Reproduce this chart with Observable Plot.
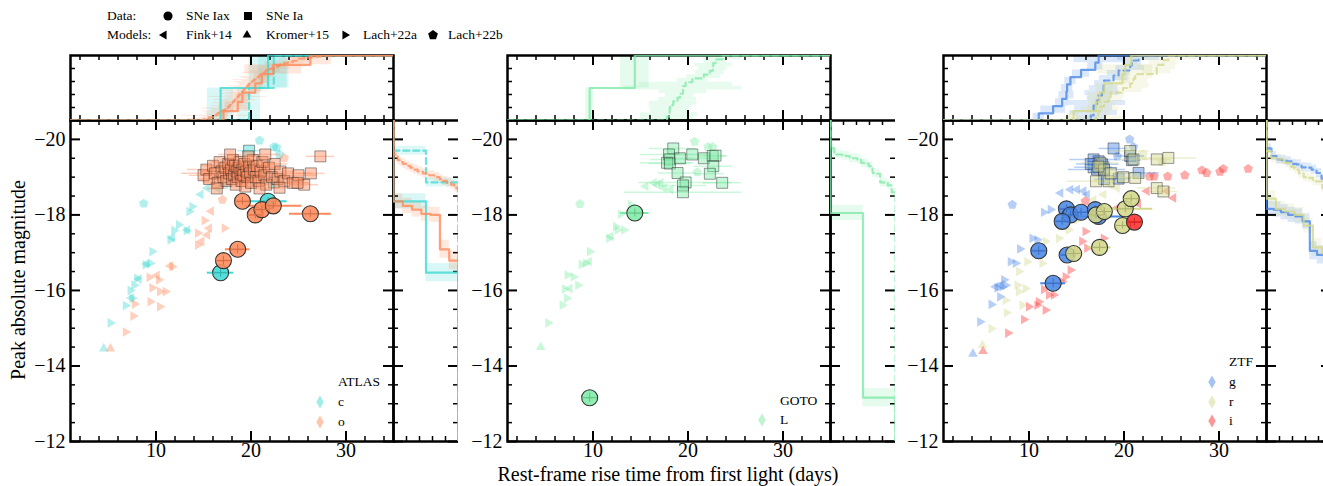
<!DOCTYPE html>
<html><head><meta charset="utf-8">
<script src="https://cdn.jsdelivr.net/npm/d3@7"></script>
<script src="https://cdn.jsdelivr.net/npm/@observablehq/plot@0.6"></script>
<style>
body{margin:0;background:#fff;}
#fig{position:relative;width:1323px;height:486px;overflow:hidden;background:#fff;font-family:"Liberation Serif","Times New Roman",Times,serif;color:#000;}
.abs{position:absolute;}
.txt{position:absolute;white-space:nowrap;line-height:1;transform:translateY(-50%);}
</style></head><body><div id="fig"></div>
<script>
// ---------------- axes / ticks ----------------
const xDomain = [1, 35];
const yDomain = [-12, -20.5];
const xMajor = [10, 20, 30];
const xMinor = [2, 4, 6, 8, 12, 14, 16, 18, 22, 24, 26, 28, 32, 34];
const yMajor = [-20, -18, -16, -14, -12];
const yMinor = [-19.5, -19, -18.5, -17.5, -17, -16.5, -15.5, -15, -14.5, -13.5, -13, -12.5];
const cdfTicks = [0.2, 0.4, 0.6, 0.8];
const xLabel = "Rest-frame rise time from first light (days)";
const yLabel = "Peak absolute magnitude";

// ---------------- colours ----------------
const colC = "#40d9d3", colO = "#ff8a5a", colL = "#7eeaa6", colG = "#4a88e6", colR = "#d3d88b", colI = "#ff2e2e";

// ---------------- ATLAS c ----------------
const atlasC_iax_x = [16.8, 21.8];
const atlasC_iax_mag = [-16.47, -18.36];
const atlasC_iax_xerr = [1.4, 2.0];
const atlasC_iax_merr = [0.12, 0.1];
const atlasC_ia_x = [19.8, 22.4];
const atlasC_ia_mag = [-19.7, -18.86];
const atlasC_ia_xerr = [1.2, 1.6];
const atlasC_mod_x = [4.5, 5.2, 6.8, 7.5, 7.3, 7.7, 8.0, 8.9, 9.4, 9.6, 11.5, 11.9, 12.4, 13.2, 13.5, 13.8,
  7.4, 8.2, 9.0, 11.7, 13.3, 14.7, 15.4, 16.5, 17.3, 8.7, 20.9, 22.4, 22.7, 23.0, 21.2];
const atlasC_mod_mag = [-14.46, -15.14, -15.6, -15.79, -16.0, -16.14, -16.32, -16.68, -16.72, -17.03, -17.34, -17.59, -17.74, -17.58, -18.09, -18.22,
  -15.8, -16.3, -16.7, -17.4, -17.6, -18.54, -18.71, -18.7, -18.8, -18.3, -19.97, -19.8, -19.78, -19.6, -19.1];
const atlasC_mod_kind = ["K","A","A","A","A","A","A","A","A","A","A","A","A","A","A","A",
  "F","F","F","F","F","F","F","F","F","B","B","B","B","B","B"];

// ---------------- ATLAS o ----------------
const atlasO_iax_x = [17.1, 18.6, 19.1, 20.45, 21.15, 22.35, 26.25];
const atlasO_iax_mag = [-16.79, -17.09, -18.36, -18.0, -18.14, -18.24, -18.03];
const atlasO_iax_xerr = [0.5, 1.3, 0.8, 0.7, 0.8, 3.0, 2.2];
const atlasO_iax_merr = [0.12, 0.12, 0.1, 0.1, 0.1, 0.1, 0.1];
const atlasO_ia_x = [15.0,15.3,15.6,16.0,16.2,16.5,16.7,16.9,17.1,17.3, 17.4,17.6,17.7,17.9,18.0,18.1,18.2,18.3,18.4,18.5,
  18.6,18.7,18.8,18.9,19.0,19.1,19.2,19.3,19.4,19.5, 19.6,19.8,19.9,20.0,20.2,20.3,20.5,20.6,20.8,21.0,
  21.2,21.4,21.6,21.9,22.2,22.5,22.8,23.1,23.5,23.9, 24.4,25.0,25.6,27.3,19.7,17.8,21.5,16.4,23.0,20.9, 26.3,24.9];
const atlasO_ia_mag = [-19.05,-19.2,-18.95,-19.3,-19.1,-18.85,-19.4,-19.15,-19.0,-19.25, -18.9,-19.35,-19.1,-19.2,-18.95,-19.45,-19.05,-19.3,-18.8,-19.15,
  -19.0,-19.25,-19.4,-19.1,-18.9,-19.2,-19.05,-19.35,-18.75,-19.15, -19.0,-19.3,-19.1,-18.85,-19.45,-19.2,-19.0,-19.3,-18.9,-19.15,
  -19.4,-19.05,-18.8,-19.25,-19.0,-19.35,-18.95,-19.15,-18.9,-19.1, -18.85,-19.05,-18.8,-19.55,-19.55,-19.6,-19.6,-18.7,-18.72,-18.7, -19.1,-18.85];
const atlasO_ia_xerr = [1.5,2.0,1.0,1.2,3.5,1.5,1.0,2.0,1.2,1.5, 2.5,1.0,1.8,1.2,2.0,1.0,1.5,2.2,1.2,1.0,
  3.0,1.4,1.0,2.0,1.5,1.2,2.5,1.0,1.6,1.2, 2.0,1.0,1.4,1.8,1.2,2.2,1.0,1.5,2.0,1.2,
  1.0,2.4,1.5,1.2,2.0,1.4,3.0,1.6,2.0,2.5, 1.8,2.0,1.5,1.5,1.0,1.2,1.6,1.0,1.2,1.0, 1.5,1.2];
const atlasO_mod_x = [5.2, 6.8, 7.6, 7.75, 9.4, 10.4, 9.6, 10.4, 11.0, 9.3, 10.3, 11.7, 14.4, 14.4, 15.1, 17.2,
  10.1, 11.5, 15.4, 15.6, 15.8, 14.8, 17.0, 21.5, 23.5];
const atlasO_mod_mag = [-14.46, -14.9, -15.32, -15.64, -15.7, -15.57, -16.07, -15.97, -15.97, -16.35, -16.28, -16.63, -17.2, -17.52, -17.85, -17.65,
  -16.4, -16.65, -17.47, -17.65, -18.1, -17.3, -18.4, -19.3, -19.5];
const atlasO_mod_kind = ["K","A","A","A","A","A","A","A","A","A","A","A","A","A","A","A",
  "F","F","F","F","F","F","B","B","B"];

// ---------------- GOTO L ----------------
const gotoL_iax_x = [9.65, 14.4];
const gotoL_iax_mag = [-13.16, -18.05];
const gotoL_iax_xerr = [0.4, 1.5];
const gotoL_iax_merr = [0.12, 0.1];
const gotoL_ia_x = [18.45, 18.0, 18.07, 17.8, 18.1, 19.15, 18.9, 19.75, 19.47, 19.47, 20.45, 21.67, 22.6, 22.9, 22.66, 22.3, 23.6];
const gotoL_ia_mag = [-19.76, -19.6, -19.47, -19.38, -19.36, -19.5, -19.11, -18.86, -18.78, -18.6, -19.6, -19.5, -19.56, -19.57, -19.29, -19.09, -18.85];
const gotoL_ia_xerr = [2.5, 3.0, 2.0, 2.8, 2.2, 1.5, 2.0, 4.9, 2.5, 6.2, 1.6, 1.8, 1.5, 1.2, 2.0, 1.5, 2.0];
const gotoL_mod_x = [4.5, 5.27, 6.78, 7.24, 7.03, 7.3, 7.94, 8.42, 8.78, 9.23, 9.65, 11.68, 12.39, 12.57, 13.26, 12.9, 13.96,
  7.55, 9.58, 11.86, 15.54, 16.4, 16.77, 17.12, 17.47, 18.17, 8.63, 20.7, 22.1, 22.6, 20.98];
const gotoL_mod_mag = [-14.5, -15.14, -15.61, -15.79, -16.04, -16.41, -16.36, -16.14, -16.69, -16.72, -17.03, -17.38, -17.69, -17.6, -17.6, -18.02, -18.27,
  -16.05, -16.76, -17.43, -18.76, -18.85, -18.8, -18.85, -18.71, -18.67, -18.29, -19.94, -19.8, -19.8, -19.13];
const gotoL_mod_kind = ["K","A","A","A","A","A","A","A","A","A","A","A","A","A","A","A","A",
  "F","F","F","F","F","F","F","F","F","B","B","B","B","B"];

// ---------------- ZTF g ----------------
const ztfG_iax_x = [13.94, 14.36, 13.49, 15.48, 16.98, 17.33, 11.03, 14.01, 12.54];
const ztfG_iax_mag = [-18.16, -18.0, -17.83, -18.07, -18.14, -17.96, -17.05, -16.94, -16.19];
const ztfG_iax_xerr = [0.8, 0.6, 0.7, 0.9, 0.8, 2.6, 0.6, 0.6, 1.3];
const ztfG_iax_merr = [0.1, 0.1, 0.1, 0.1, 0.1, 0.1, 0.12, 0.12, 0.12];
const ztfG_ia_x = [18.9, 16.8, 17.33, 17.68, 17.16, 17.85, 16.8, 19.43, 20.65, 20.83, 21.53, 16.5, 17.9];
const ztfG_ia_mag = [-19.76, -19.47, -19.42, -19.34, -19.2, -19.25, -19.26, -18.96, -19.56, -19.45, -19.11, -19.35, -18.95];
const ztfG_ia_xerr = [1.5, 2.5, 1.2, 1.8, 3.0, 1.5, 2.0, 1.2, 1.5, 1.0, 2.2, 1.5, 1.0];
const ztfG_mod_x = [4.1, 4.84, 6.04, 6.94, 6.67, 7.19, 7.54, 7.36, 8.06, 8.59, 9.04, 10.34, 10.86, 11.56, 12.26,
  6.49, 7.01, 13.31, 14.36, 15.06, 15.75, 16.11, 8.24, 20.6, 21.0, 19.3];
const ztfG_mod_mag = [-14.32, -15.17, -15.63, -15.83, -16.07, -16.1, -16.14, -16.28, -16.76, -16.72, -17.1, -17.38, -17.34, -18.07, -18.14,
  -16.1, -16.14, -18.58, -18.67, -18.67, -18.63, -18.54, -18.27, -20.0, -19.8, -19.55];
const ztfG_mod_kind = ["K","A","A","A","A","A","A","A","A","A","A","A","A","A","A",
  "F","F","F","F","F","F","F","B","B","B","B"];

// ---------------- ZTF r ----------------
const ztfR_iax_x = [14.7, 17.05, 17.93, 20.13, 20.76, 19.85, 17.43];
const ztfR_iax_mag = [-16.98, -18.0, -18.09, -18.16, -18.43, -17.72, -17.14];
const ztfR_iax_xerr = [0.6, 0.8, 0.9, 2.9, 0.7, 0.8, 1.2];
const ztfR_iax_merr = [0.1, 0.1, 0.1, 0.1, 0.1, 0.1, 0.12];
const ztfR_ia_x = [17.5, 17.05, 18.38, 20.65, 21.0, 21.18, 23.45, 24.67, 23.45, 24.15, 17.9, 18.6, 19.9, 17.3];
const ztfR_ia_mag = [-19.38, -18.89, -18.89, -19.69, -19.47, -18.98, -19.47, -19.51, -18.71, -18.62, -19.2, -19.1, -19.0, -19.28];
const ztfR_ia_xerr = [2.0, 3.0, 1.5, 2.0, 1.5, 1.8, 1.5, 3.0, 2.0, 1.5, 1.2, 1.5, 2.0, 1.2];
const ztfR_mod_x = [5.1, 6.04, 7.64, 7.54, 8.93, 9.64, 8.77, 9.29, 8.93, 9.81, 11.39, 11.73, 13.13, 14.18, 15.06,
  17.85, 19.26, 18.5, 16.8, 22.0, 24.0];
const ztfR_mod_mag = [-14.55, -14.99, -15.41, -15.74, -15.97, -16.05, -16.14, -15.61, -16.5, -16.76, -16.72, -17.3, -17.38, -17.6, -17.87,
  -18.54, -18.71, -18.8, -18.4, -19.6, -19.4];
const ztfR_mod_kind = ["K","A","A","A","A","A","A","A","A","A","A","A","A","A","A",
  "F","F","F","F","B","B"];

// ---------------- ZTF i ----------------
const ztfI_iax_x = [21.1];
const ztfI_iax_mag = [-17.81];
const ztfI_iax_xerr = [0.8];
const ztfI_iax_merr = [0.1];
const ztfI_ia_x = [];
const ztfI_ia_mag = [];
const ztfI_ia_xerr = [];
const ztfI_mod_x = [5.16, 7.78, 9.46, 9.98, 10.86, 11.73, 11.03, 11.56, 12.08, 12.6, 13.49, 13.83, 14.36, 15.06, 16.1, 15.58, 15.93, 17.85,
  19.26, 21.5, 22.4, 24.5, 25.2, 15.93, 22.68, 23.17, 24.6, 26.4, 28.2, 28.7, 30.1, 30.45, 33.07];
const ztfI_mod_mag = [-14.39, -14.87, -15.23, -15.57, -15.61, -15.48, -15.7, -16.03, -15.88, -15.88, -16.23, -16.36, -16.54, -17.03, -17.12, -17.3, -17.56, -17.38,
  -18.18, -18.3, -18.63, -18.63, -18.45, -18.36, -19.02, -19.02, -19.02, -19.05, -19.18, -19.11, -19.14, -19.22, -19.22];
const ztfI_mod_kind = ["K","A","A","A","A","A","A","A","A","A","A","A","A","A","A","A","A","A",
  "F","F","F","F","F","B","B","B","B","B","B","B","B","B","B"];

const iaMagErr = 0.12;

// ---------------- symbols ----------------
const S3 = Math.sqrt(3) / 2;
const SYM = {
  A: {draw(c, s) { const r = Math.sqrt(s / Math.PI) * 1.3; c.moveTo(r, 0); c.lineTo(-r / 2, -r * S3); c.lineTo(-r / 2, r * S3); c.closePath(); }},
  F: {draw(c, s) { const r = Math.sqrt(s / Math.PI) * 1.3; c.moveTo(-r, 0); c.lineTo(r / 2, -r * S3); c.lineTo(r / 2, r * S3); c.closePath(); }},
  K: {draw(c, s) { const r = Math.sqrt(s / Math.PI) * 1.3; c.moveTo(0, -r); c.lineTo(r * S3, r / 2); c.lineTo(-r * S3, r / 2); c.closePath(); }},
  B: {draw(c, s) { const r = Math.sqrt(s / Math.PI) * 1.15; for (let k = 0; k < 5; k++) { const a = -Math.PI / 2 + k * 2 * Math.PI / 5; k ? c.lineTo(r * Math.cos(a), r * Math.sin(a)) : c.moveTo(r * Math.cos(a), r * Math.sin(a)); } c.closePath(); }}
};

function series(color, pre) {
  return {color,
    iax: {x: eval(pre + "_iax_x"), m: eval(pre + "_iax_mag"), xe: eval(pre + "_iax_xerr"), me: eval(pre + "_iax_merr")},
    ia: {x: eval(pre + "_ia_x"), m: eval(pre + "_ia_mag"), xe: eval(pre + "_ia_xerr")},
    mod: {x: eval(pre + "_mod_x"), m: eval(pre + "_mod_mag"), k: eval(pre + "_mod_kind")}};
}

const panels = [
  {left: 70, name: "ATLAS", series: [series(colC, "atlasC"), series(colO, "atlasO")], bands: ["c", "o"],
   leg: {title: [268, 382], x0: 250, x1: 268, ys: [401.5, 421.5]}},
  {left: 506.5, name: "GOTO", series: [series(colL, "gotoL")], bands: ["L"],
   leg: {title: [273.5, 401], x0: 255.5, x1: 273.5, ys: [420]}},
  {left: 943, name: "ZTF", series: [series(colG, "ztfG"), series(colR, "ztfR"), series(colI, "ztfI")], bands: ["g", "r", "i"],
   leg: {title: [286, 362.3], x0: 268.5, x1: 286, ys: [381.7, 401.7, 421.3]}}
];

const W = 323, H = 321, TOP = 119.5, MH = 65, MW = 65;
const fig = document.getElementById("fig");
const FONT = "'Liberation Serif', 'Times New Roman', Times, serif";
const minus = d => d < 0 ? "\u2212" + Math.abs(d) : String(d);

function place(el, left, top) {
  const d = document.createElement("div");
  d.className = "abs"; d.style.left = left + "px"; d.style.top = top + "px";
  el.querySelectorAll("text").forEach(t => { t.style.fontFamily = FONT; t.style.fontSize = "20px"; });
  el.querySelectorAll("g[aria-label='text']").forEach(g => { g.setAttribute("font-family", FONT); g.style.fontFamily = FONT; });
  d.appendChild(el); fig.appendChild(d);
}
const style = {overflow: "visible", background: "transparent", fontFamily: FONT, fontSize: "20px", color: "black", maxWidth: "none"};

function xTicks(h, both = true) {
  const out = [];
  const mk = (vals, len, sw) => {
    out.push(Plot.tickX(vals, {x: d => d, stroke: "black", strokeWidth: sw, insetTop: h - len}));
    if (both) out.push(Plot.tickX(vals, {x: d => d, stroke: "black", strokeWidth: sw, insetBottom: h - len}));
  };
  mk(xMajor, 10, 2); mk(xMinor, 5, 1.5);
  return out;
}
function yTicksFor(vals, len, sw, w) {
  return [Plot.tickY(vals, {y: d => d, stroke: "black", strokeWidth: sw, insetRight: w - len}),
          Plot.tickY(vals, {y: d => d, stroke: "black", strokeWidth: sw, insetLeft: w - len})];
}
function ecdfTop(vals) {
  const v = [...vals].sort((a, b) => a - b), n = v.length, p = [[xDomain[0], 0]];
  v.forEach((d, i) => { p.push([d, i / n]); p.push([d, (i + 1) / n]); });
  p.push([xDomain[1], 1]); return p;
}
function bandTop(vals, errs) {
  const idx = d3.range(vals.length).sort((a, b) => vals[a] - vals[b]), n = idx.length;
  return idx.map((j, i) => ({x1: vals[j] - errs[j], x2: vals[j] + errs[j], y1: i / n, y2: (i + 1) / n}));
}
function ecdfRight(vals) {
  const v = [...vals].sort((a, b) => a - b), n = v.length, p = [[0, yDomain[1]]];
  v.forEach((d, i) => { p.push([i / n, d]); p.push([(i + 1) / n, d]); });
  p.push([1, yDomain[0]]); return p;
}
function bandRight(vals, errs) {
  const idx = d3.range(vals.length).sort((a, b) => vals[a] - vals[b]), n = idx.length;
  return idx.map((j, i) => ({y1: vals[j] - errs[j], y2: vals[j] + errs[j], x1: i / n, x2: (i + 1) / n}));
}

function addText(t, x, y, size) {
  const d = document.createElement("div");
  d.className = "txt"; d.textContent = t;
  d.style.left = x + "px"; d.style.top = y + "px"; d.style.fontSize = size + "px";
  fig.appendChild(d); return d;
}
function addSym(path, x, y, color, op) {
  const ns = "http://www.w3.org/2000/svg";
  const svg = document.createElementNS(ns, "svg");
  svg.setAttribute("width", 20); svg.setAttribute("height", 20);
  svg.style.position = "absolute"; svg.style.left = (x - 10) + "px"; svg.style.top = (y - 10) + "px";
  const pa = document.createElementNS(ns, "path");
  pa.setAttribute("d", path); pa.setAttribute("transform", "translate(10,10)");
  pa.setAttribute("fill", color); pa.setAttribute("fill-opacity", op);
  svg.appendChild(pa); fig.appendChild(svg);
}

for (const p of panels) {
  // ---------- main ----------
  const mL = 55, mB = 40;
  const marks = [];
  for (const s of p.series) {
    const mods = s.mod.x.map((x, i) => ({x, m: s.mod.m[i], k: s.mod.k[i]}));
    for (const k of ["A", "F", "K", "B"])
      marks.push(Plot.dot(mods.filter(d => d.k === k), {x: "x", y: "m", symbol: SYM[k], r: 4.3, fill: s.color, fillOpacity: 0.4, stroke: "none", clip: true}));
  }
  for (const s of p.series) {
    const ia = s.ia.x.map((x, i) => ({x, m: s.ia.m[i], e: s.ia.xe[i]}));
    marks.push(Plot.ruleY(ia, {y: "m", x1: d => d.x - d.e, x2: d => d.x + d.e, stroke: s.color, strokeOpacity: 0.4, strokeWidth: 1.5, clip: true}));
    marks.push(Plot.dot(ia, {x: "x", y: "m", symbol: "square", r: 6.2, fill: s.color, fillOpacity: 0.45, stroke: "#222", strokeOpacity: 0.45, strokeWidth: 1, clip: true}));
  }
  for (const s of p.series) {
    const iax = s.iax.x.map((x, i) => ({x, m: s.iax.m[i], e: s.iax.xe[i], me: s.iax.me[i]}));
    const dark = d3.color(s.color).darker(0.6).formatHex();
    marks.push(Plot.ruleY(iax, {y: "m", x1: d => d.x - d.e, x2: d => d.x + d.e, stroke: s.color, strokeWidth: 2, clip: true}));
    marks.push(Plot.dot(iax, {x: "x", y: "m", r: 8, fill: s.color, fillOpacity: 0.88, stroke: "#333", strokeWidth: 1.1, clip: true}));
    marks.push(Plot.ruleX(iax, {x: "x", y1: d => d.m - d.me, y2: d => d.m + d.me, stroke: dark, strokeWidth: 1, clip: true}));
    marks.push(Plot.ruleY(iax, {y: "m", x1: d => d.x - 0.8, x2: d => d.x + 0.8, stroke: dark, strokeWidth: 1, clip: true}));
  }
  marks.push(...xTicks(H));
  marks.push(...yTicksFor(yMajor, 10, 2, W), ...yTicksFor(yMinor, 5, 1.5, W));
  marks.push(Plot.frame({stroke: "black", strokeWidth: 2.5}));
  marks.push(Plot.text(xMajor, {x: d => d, text: d => String(d), frameAnchor: "bottom", dy: 15, fontSize: 20, fontFamily: FONT, fill: "black"}));
  marks.push(Plot.text(yMajor, {y: d => d, text: minus, frameAnchor: "left", textAnchor: "end", dx: -5, fontSize: 20, fontFamily: FONT, fill: "black"}));
  const main = Plot.plot({width: W + mL, height: H + mB, marginLeft: mL, marginRight: 0, marginTop: 0, marginBottom: mB,
    x: {domain: xDomain, axis: null}, y: {domain: yDomain, axis: null}, style, marks});
  place(main, p.left - mL, TOP);

  // ---------- top marginal ----------
  const tm = [];
  for (const s of p.series) {
    if (s.ia.x.length > 1) tm.push(Plot.rect(bandTop(s.ia.x, s.ia.xe), {x1: "x1", x2: "x2", y1: "y1", y2: "y2", fill: s.color, fillOpacity: 0.18, clip: true}));
    if (s.iax.x.length > 1) tm.push(Plot.rect(bandTop(s.iax.x, s.iax.xe), {x1: "x1", x2: "x2", y1: "y1", y2: "y2", fill: s.color, fillOpacity: 0.2, clip: true}));
  }
  tm.push(...xTicks(MH), ...yTicksFor(cdfTicks, 5, 1.5, W));
  tm.push(Plot.frame({stroke: "black", strokeWidth: 2.5}));
  for (const s of p.series) {
    if (s.ia.x.length > 1) tm.push(Plot.line(ecdfTop(s.ia.x), {x: d => d[0], y: d => d[1], stroke: s.color, strokeOpacity: 0.75, strokeWidth: 2.2, strokeDasharray: "6,4", clip: true}));
    if (s.iax.x.length > 1) tm.push(Plot.line(ecdfTop(s.iax.x), {x: d => d[0], y: d => d[1], stroke: s.color, strokeOpacity: 0.8, strokeWidth: 2.2, clip: true}));
  }
  const top = Plot.plot({width: W, height: MH, margin: 0, x: {domain: xDomain, axis: null}, y: {domain: [0, 1], axis: null}, style, marks: tm});
  place(top, p.left, TOP - MH);

  // ---------- right marginal ----------
  const rm = [];
  for (const s of p.series) {
    if (s.ia.x.length > 1) rm.push(Plot.rect(bandRight(s.ia.m, s.ia.m.map(() => iaMagErr)), {x1: "x1", x2: "x2", y1: "y1", y2: "y2", fill: s.color, fillOpacity: 0.18, clip: true}));
    if (s.iax.x.length > 1) rm.push(Plot.rect(bandRight(s.iax.m, s.iax.me.map(e => e * 2)), {x1: "x1", x2: "x2", y1: "y1", y2: "y2", fill: s.color, fillOpacity: 0.2, clip: true}));
  }
  rm.push(...yTicksFor(yMajor, 10, 2, MW), ...yTicksFor(yMinor, 5, 1.5, MW));
  rm.push(Plot.tickX(cdfTicks, {x: d => d, stroke: "black", strokeWidth: 1.5, insetTop: H - 5}));
  rm.push(Plot.tickX(cdfTicks, {x: d => d, stroke: "black", strokeWidth: 1.5, insetBottom: H - 5}));
  rm.push(Plot.ruleY([yDomain[0], yDomain[1]], {stroke: "black", strokeWidth: 2.5}));
  rm.push(Plot.ruleX([0], {stroke: "black", strokeWidth: 2.5}));
  for (const s of p.series) {
    if (s.ia.x.length > 1) rm.push(Plot.line(ecdfRight(s.ia.m), {x: d => d[0], y: d => d[1], stroke: s.color, strokeOpacity: 0.75, strokeWidth: 2.2, strokeDasharray: "6,4", clip: true}));
    if (s.iax.x.length > 1) rm.push(Plot.line(ecdfRight(s.iax.m), {x: d => d[0], y: d => d[1], stroke: s.color, strokeOpacity: 0.8, strokeWidth: 2.2, clip: true}));
  }
  const right = Plot.plot({width: MW, height: H, margin: 0, x: {domain: [0, 1], axis: null}, y: {domain: yDomain, axis: null}, style, marks: rm});
  place(right, p.left + W, TOP);

  // ---------- in-panel legend ----------
  addText(p.name, p.left + p.leg.title[0], p.leg.title[1], 13.5);
  p.bands.forEach((b, i) => {
    addSym(d3.symbol(d3.symbolDiamond, 48)(), p.left + p.leg.x0, p.leg.ys[i], p.series[i].color, 0.5);
    addText(b, p.left + p.leg.x1, p.leg.ys[i], 13.5);
  });
}

// ---------------- top legend ----------------
const legRows = [
  {label: "Data:", y: 16, items: [[d3.symbol(d3.symbolCircle, 66)(), 168, "SNe Iax", 186], [d3.symbol(d3.symbolSquare, 64)(), 248, "SNe Ia", 266]]},
  {label: "Models:", y: 35, items: [[d3.symbol(SYM.F, 48)(), 164, "Fink+14", 186], [d3.symbol(SYM.K, 48)(), 247, "Kromer+15", 266],
    [d3.symbol(SYM.A, 48)(), 345, "Lach+22a", 363], [d3.symbol(SYM.B, 62)(), 433, "Lach+22b", 448]]}
];
for (const r of legRows) {
  addText(r.label, 107, r.y, 13.5);
  for (const [path, sx, t, tx] of r.items) { addSym(path, sx, r.y, "#000", 1); addText(t, tx, r.y, 13.5); }
}

// ---------------- axis labels ----------------
const xl = addText(xLabel, 668, 474, 20); xl.style.transform = "translate(-50%,-50%)";
const yl = addText(yLabel, 18, 280, 20); yl.style.transform = "translate(-50%,-50%) rotate(-90deg)";
</script></body></html>
